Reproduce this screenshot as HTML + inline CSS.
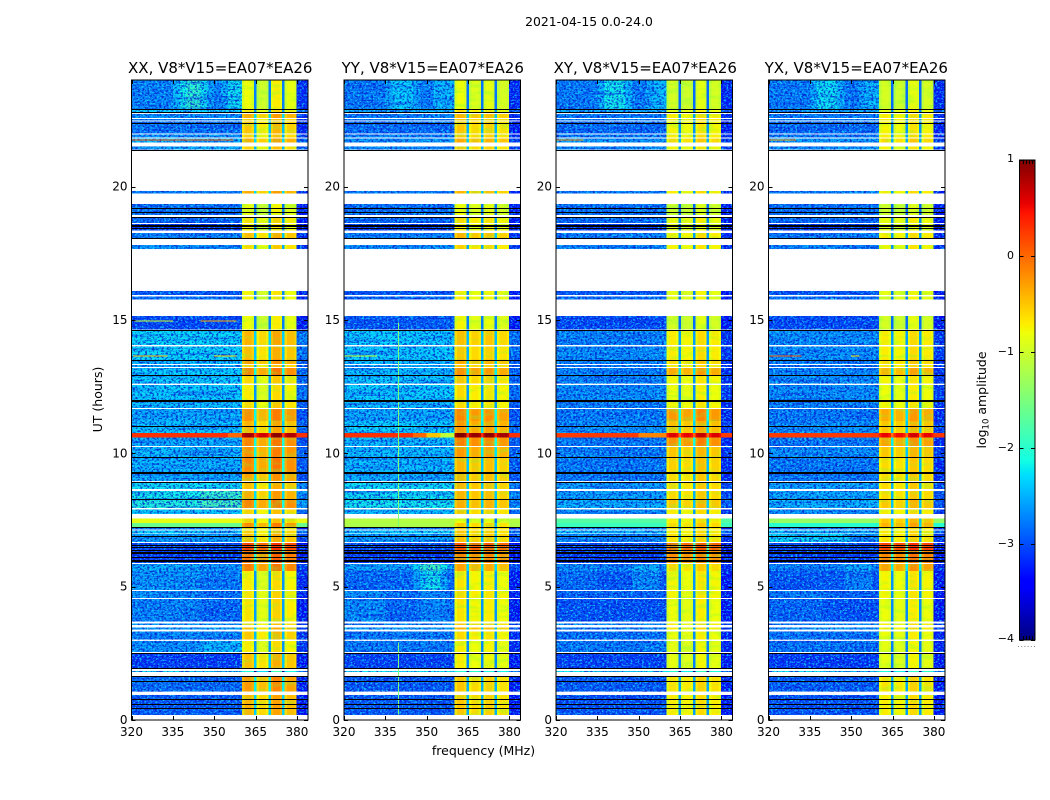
<!DOCTYPE html>
<html lang="en">
<head>
<meta charset="utf-8">
<title>2021-04-15 0.0-24.0</title>
<style>
html,body{margin:0;padding:0;background:#fff;}
svg{display:block;font-family:"DejaVu Sans","Liberation Sans",sans-serif;fill:#000;}
</style>
</head>
<body>
<svg id="fig" xmlns="http://www.w3.org/2000/svg" width="1050" height="800" viewBox="0 0 1050 800">
  <defs>
    <filter id="speckle-dark" x="0" y="0" width="1" height="1" color-interpolation-filters="sRGB">
      <feTurbulence type="fractalNoise" baseFrequency="0.42 0.55" numOctaves="2" seed="4"/>
      <feColorMatrix type="matrix" values="0 0 0 0 0  0 0 0 0 0.08  0 0 0 0 0.78  5 0 0 0 -2.35"/>
    </filter>
    <filter id="speckle-light" x="0" y="0" width="1" height="1" color-interpolation-filters="sRGB">
      <feTurbulence type="fractalNoise" baseFrequency="0.45 0.6" numOctaves="2" seed="11"/>
      <feColorMatrix type="matrix" values="0 0 0 0 0.1  0 0 0 0 0.85  0 0 0 0 1  0 5 0 0 -2.4"/>
    </filter>
    <filter id="row-stripes" x="0" y="0" width="1" height="1" color-interpolation-filters="sRGB">
      <feTurbulence type="fractalNoise" baseFrequency="0.012 0.5" numOctaves="2" seed="7"/>
      <feColorMatrix type="matrix" values="0 0 0 0 0  0 0 0 0 0.15  0 0 0 0 0.9  4 0 0 0 -1.95"/>
    </filter>
    <filter id="window-mottle" x="0" y="0" width="1" height="1" color-interpolation-filters="sRGB">
      <feTurbulence type="fractalNoise" baseFrequency="0.06 0.22" numOctaves="2" seed="21"/>
      <feColorMatrix type="matrix" values="0 0 0 0 0.45  0 0 0 0 1  0 0 0 0 0.25  4 0 0 0 -1.95"/>
    </filter>
  </defs>
  <text x="589" y="26" font-size="12.4" text-anchor="middle">2021-04-15 0.0-24.0</text>
  <text transform="translate(102,399.5) rotate(-90)" font-size="12.5" text-anchor="middle">UT (hours)</text>
  <text x="483.5" y="755" font-size="12.5" text-anchor="middle">frequency (MHz)</text>
  <text transform="translate(986,400) rotate(-90)" font-size="12.5" text-anchor="middle">log<tspan font-size="8.5" dy="2.5">10</tspan><tspan dy="-2.5"> amplitude</tspan></text>
  <g id="panels"></g>
  <g id="cbar"></g>
</svg>
<script>
const panelTitles = ["XX, V8*V15=EA07*EA26","YY, V8*V15=EA07*EA26","XY, V8*V15=EA07*EA26","YX, V8*V15=EA07*EA26"];
const xTicks = [320,335,350,365,380];
const yTicks = [0,5,10,15,20];
const cbarTicks = [1,0,-1,-2,-3,-4];

// Observing bands in UT hours; anything not covered is flagged (white)
const bandStart = [24.00,22.91,22.73,22.53,22.45,21.96,21.80,21.51,19.84,19.35,18.86,18.60,18.26,17.81,16.09,15.88,15.15,14.59,14.01,13.52,13.31,13.20,12.94,12.56,11.96,11.66,11.21,10.76,10.59,10.24,9.83,9.24,8.93,8.59,8.25,7.89,7.56,7.39,7.20,7.11,6.97,6.63,6.34,5.85,5.59,4.84,4.54,3.62,3.47,3.32,2.97,2.50,1.84,1.63,0.94];
const bandEnd   = [22.91,22.76,22.58,22.49,22.00,21.85,21.66,21.39,19.75,18.94,18.64,18.36,18.08,17.66,15.94,15.77,14.64,14.06,13.52,13.35,13.24,12.94,12.61,12.00,11.70,11.21,10.76,10.59,10.28,9.86,9.30,8.96,8.66,8.29,7.95,7.73,7.39,7.24,7.15,7.00,6.67,6.34,5.89,5.59,4.88,4.58,3.69,3.56,3.39,3.01,2.55,1.95,1.80,1.06,0.19];

// log10 amplitude in the 320-360 MHz part, one value per band
const lowXX = [-2.7,-2.3,-2.65,-2.75,-2.8,-2.65,-2.4,-2.5,-2.75,-2.8,-2.85,-3.15,-2.75,-2.65,-2.95,-2.85,-3.05,-2.25,-2.25,-2.4,-2.5,-2.3,-2.3,-2.3,-2.4,-2.5,-2.35,0.3,-2.5,-2.4,-2.45,-2.5,-2.2,-2.15,-2.05,-2.3,-0.85,-1.6,-2.75,-2.3,-2.55,-3.05,-3.15,-2.65,-2.75,-2.8,-2.85,-2.65,-2.55,-2.7,-2.65,-3.15,-2.2,-2.85,-2.95];
const lowYY = [-2.75,-2.4,-2.75,-2.75,-2.85,-2.75,-2.6,-2.65,-2.75,-2.8,-2.85,-3.15,-2.75,-2.65,-2.95,-2.85,-2.95,-2.3,-2.3,-2.4,-2.5,-2.4,-2.35,-2.3,-2.4,-2.5,-2.3,0.3,-2.4,-2.4,-2.4,-2.5,-2.2,-2.2,-2.15,-2.4,-1.15,-1.2,-2.75,-2.3,-2.55,-3.05,-3.15,-2.55,-2.85,-2.85,-2.85,-2.65,-2.55,-2.75,-2.75,-3.1,-2.2,-2.95,-2.95];
const lowXY = [-2.75,-2.5,-2.75,-2.75,-2.85,-2.75,-2.6,-2.65,-2.75,-2.8,-2.85,-3.15,-2.75,-2.7,-2.95,-2.85,-3.05,-2.7,-2.65,-2.75,-2.75,-2.7,-2.7,-2.65,-2.75,-2.75,-2.65,0.25,-2.75,-2.7,-2.75,-2.75,-2.55,-2.55,-2.45,-2.65,-1.75,-1.9,-2.75,-2.4,-2.7,-3.05,-3.15,-2.75,-2.95,-2.9,-3.0,-2.65,-2.65,-2.8,-2.75,-3.1,-2.2,-2.95,-3.0];
const lowYX = [-2.75,-2.5,-2.75,-2.75,-2.85,-2.75,-2.6,-2.65,-2.75,-2.8,-2.85,-3.15,-2.75,-2.7,-2.95,-2.85,-3.05,-2.65,-2.65,-2.75,-2.75,-2.7,-2.65,-2.65,-2.7,-2.75,-2.65,0.25,-2.75,-2.65,-2.75,-2.75,-2.55,-2.5,-2.45,-2.65,-1.35,-2.0,-2.75,-2.4,-2.65,-3.05,-3.15,-2.75,-2.95,-2.9,-3.0,-2.65,-2.65,-2.8,-2.8,-3.15,-2.2,-2.95,-3.0];

// log10 amplitude in the 360-380 MHz windows, one value per band
const highXX = [-0.95,-0.8,-0.5,-0.7,-0.65,-0.7,-0.5,-0.7,-0.5,-1.0,-0.8,-0.9,-0.6,-0.75,-0.9,-0.9,-0.95,-0.55,-0.6,-0.45,-0.7,-0.3,-0.75,-0.85,-0.75,-0.35,-0.55,0.7,-0.3,-0.35,-0.3,-0.45,-0.6,-0.5,-0.3,-0.7,-0.7,-0.35,-0.7,-0.7,-0.6,0.05,-0.2,-0.25,-0.85,-0.8,-0.8,-0.7,-0.6,-0.65,-0.85,-0.6,-2.2,-0.4,-0.55];
const highYY = [-1.0,-0.8,-0.6,-0.7,-0.7,-0.7,-0.55,-0.7,-0.6,-1.0,-0.8,-0.9,-0.6,-0.75,-0.9,-0.9,-0.95,-0.65,-0.7,-0.55,-0.7,-0.4,-0.7,-0.8,-0.8,-0.35,-0.45,0.8,-0.3,-0.45,-0.6,-0.6,-0.6,-0.6,-0.55,-0.7,-1.0,-0.7,-0.7,-0.7,-0.65,-0.05,-0.3,-0.5,-0.85,-0.8,-0.85,-0.7,-0.6,-0.8,-0.9,-0.9,-2.2,-0.7,-0.7];
const highXY = [-1.05,-0.9,-0.8,-0.8,-0.85,-0.8,-0.7,-0.85,-0.8,-1.1,-0.9,-1.0,-0.8,-0.85,-0.95,-0.95,-1.05,-0.8,-0.8,-0.7,-0.8,-0.45,-0.85,-0.9,-0.85,-0.35,-0.55,0.5,-0.3,-0.6,-0.65,-0.7,-0.7,-0.7,-0.6,-0.8,-0.8,-0.7,-0.8,-0.8,-0.75,-0.05,-0.3,-0.7,-0.85,-0.85,-0.9,-0.8,-0.8,-0.9,-0.95,-0.95,-2.2,-0.75,-0.8];
const highYX = [-1.05,-0.9,-0.8,-0.8,-0.85,-0.8,-0.7,-0.85,-0.8,-1.1,-0.9,-1.0,-0.8,-0.85,-0.95,-0.95,-1.05,-0.8,-0.8,-0.7,-0.8,-0.5,-0.85,-0.9,-0.85,-0.45,-0.6,0.45,-0.4,-0.6,-0.7,-0.7,-0.7,-0.7,-0.6,-0.8,-0.6,-0.5,-0.8,-0.8,-0.75,0.1,-0.25,-0.4,-0.85,-0.85,-0.9,-0.8,-0.8,-0.9,-0.95,-0.95,-2.2,-0.75,-0.8];

// Level offset of each 5 MHz window (360, 365, 370, 375 MHz) per panel
const windowXX = [0.15,-0.05,0.25,0.1];
const windowYY = [0.2,0.1,0.15,0.05];
const windowXY = [0.1,0.05,0.2,0.1];
const windowYX = [0.1,0.05,0.2,0.1];

// Broad emission patches: panel, hour from, hour to, MHz from, MHz to, level change
const patches = [
  [0,24,22.91,335,337.5,0.3],[0,24,22.91,337.5,340,0.55],[0,24,22.91,340,345,0.75],[0,24,22.91,345,347.5,0.5],[0,24,22.91,347.5,350,0.2],[0,24,22.91,352.5,355,0.25],[0,24,22.91,355,360,0.5],
  [0,5.85,3.69,320,345,0.15],[0,5.85,3.69,345,360,0.0],[0,2.97,2.55,345,360,0.25],[0,8.59,7.95,345,360,0.25],
  [1,24,22.91,335,337.5,0.25],[1,24,22.91,337.5,345,0.45],[1,24,22.91,345,347.5,0.2],[1,24,22.91,352.5,360,0.3],
  [1,5.85,4.88,345,347.5,0.3],[1,5.85,4.88,347.5,350,0.6],[1,5.85,4.88,350,355,0.7],[1,5.85,4.88,355,357.5,0.4],
  [1,4.88,3.69,320,335,0.2],[1,4.88,3.69,347.5,357.5,0.15],
  [1,10.76,10.59,345,350,-0.3],[1,10.76,10.59,350,355,-0.8],[1,10.76,10.59,355,360,-1.4],
  [0,10.76,10.59,355,360,-0.3],
  [2,24,22.91,335,337.5,0.3],[2,24,22.91,337.5,345,0.6],[2,24,22.91,345,347.5,0.35],[2,24,22.91,352.5,355,0.2],[2,24,22.91,355,360,0.35],
  [2,5.85,4.88,347.5,357.5,0.3],[2,5.85,4.88,320,335,0.12],[2,10.76,10.59,350,360,-0.4],
  [3,24,22.91,335,337.5,0.25],[3,24,22.91,337.5,345,0.55],[3,24,22.91,345,347.5,0.3],[3,24,22.91,352.5,355,0.2],[3,24,22.91,355,360,0.35],
  [3,5.85,4.88,347.5,357.5,0.22],[3,4.88,3.69,320,340,0.12],[3,6.97,6.67,320,350,0.4]
];

// Narrow interference: panel, MHz from, MHz to, hour from, hour to, level
const spurs = [
  [0,320,357,21.77,21.73,0.1],[0,320.5,333,13.67,13.63,-0.4],[0,350,358,13.67,13.63,-0.6],[0,321,335,14.98,14.94,-1.0],[0,345,358,14.98,14.94,-0.4],
  [1,320,332,13.67,13.63,-1.0],[1,339.6,340,14.9,7.2,-1.5],[1,339.6,340,2.9,0.2,-1.5],
  [2,320,330,21.77,21.73,-0.3],[3,320,330,21.77,21.73,-0.3],
  [3,320,332,13.67,13.63,0.1],[3,350,353,13.67,13.63,-0.7]
];

// Thin fully-dark integrations, hours
const flagHours = [22.91,22.79,22.38,21.39,19.2,19.05,18.87,18.56,18.51,18.45,18.06,14.64,13.51,12.93,12.0,11.96,11.04,9.86,9.29,9.25,8.94,8.28,7.22,6.9,6.56,6.49,6.39,6.31,6.25,6.11,6.0,5.96,2.53,2.51,1.94,1.65,1.45,0.79,0.61,0.44];

// Column edges, MHz
const lowEdges = [320,322.5,325,327.5,330,332.5,335,337.5,340,342.5,345,347.5,350,352.5,355,357.5,360];
const windowEdges = [360,360.9,363.6,364.4,365.4,366.2,368.8,369.6,370.5,371.3,373.8,374.6,375.5,376.3,379.1,379.9,384];
// Which window each column belongs to (-1 gap between windows, -2 outer edge) and its edge roll-off
const columnWindow = [0,0,0,-1,1,1,1,-1,2,2,2,-1,3,3,3,-2];
const columnRolloff = [-0.15,0,-0.1,0,-0.15,0,-0.1,0,-0.15,0,-0.1,0,-0.15,0,-0.1,0];

const lowSeries = [lowXX,lowYY,lowXY,lowYX];
const highSeries = [highXX,highYY,highXY,highYX];
const windowSeries = [windowXX,windowYY,windowXY,windowYX];
const panelKeys = ["xx","yy","xy","yx"];
const titleNudge = [1,1,1.5,0];

const SVGNS = "http://www.w3.org/2000/svg";
const panelLefts = [131.5,344,556,768.5];
const panelW = 176.5, plotTop = 80, plotH = 640;
const xAt = (left,f) => left + (f-320)*panelW/64;
const yAt = h => plotTop + (24-h)*plotH/24;

function jetChannel(t,pts){
  for(let i=1;i<pts.length;i++){
    if(t<=pts[i][0]){
      const a=pts[i-1],b=pts[i];
      return a[1]+(b[1]-a[1])*(t-a[0])/(b[0]-a[0]);
    }
  }
  return pts[pts.length-1][1];
}
function jet(v){
  const t=Math.max(0,Math.min(1,(v+4)/5));
  const r=jetChannel(t,[[0,0],[0.35,0],[0.66,1],[0.89,1],[1,0.5]]);
  const g=jetChannel(t,[[0,0],[0.125,0],[0.375,1],[0.64,1],[0.91,0],[1,0]]);
  const b=jetChannel(t,[[0,0.5],[0.11,1],[0.34,1],[0.65,0],[1,0]]);
  return "rgb("+Math.round(r*255)+","+Math.round(g*255)+","+Math.round(b*255)+")";
}
function patchDelta(p,hs,he,f0,f1){
  let d=0;
  for(const q of patches){
    if(q[0]!==p) continue;
    if(hs>q[2]+0.001 && he<q[1]-0.001 && f0<q[4]-0.01 && f1>q[3]+0.01) d+=q[5];
  }
  return d;
}
function rectEl(x,y,w,h,fill){
  const r=document.createElementNS(SVGNS,"rect");
  r.setAttribute("x",x.toFixed(2));
  r.setAttribute("y",y.toFixed(2));
  r.setAttribute("width",w.toFixed(2));
  r.setAttribute("height",h.toFixed(2));
  r.setAttribute("fill",fill);
  return r;
}
function textEl(x,y,str,anchor,size){
  const t=document.createElementNS(SVGNS,"text");
  t.setAttribute("x",x);
  t.setAttribute("y",y);
  t.setAttribute("text-anchor",anchor);
  t.setAttribute("font-size",size);
  t.textContent=str;
  return t;
}
function tickEl(x,y,w,h){
  return rectEl(x,y,w,h,"#000");
}

const panelsRoot=document.getElementById("panels");
panelTitles.forEach(function(title,p){
  const left=panelLefts[p];
  const g=document.createElementNS(SVGNS,"g");
  
  
  panelsRoot.appendChild(g);

  const cells=document.createElementNS(SVGNS,"g");
  cells.setAttribute("shape-rendering","crispEdges");
  
  
  g.appendChild(cells);

  const clip=document.createElementNS(SVGNS,"clipPath");
  clip.setAttribute("id","noise-clip-"+p);
  const clipHigh=document.createElementNS(SVGNS,"clipPath");
  clipHigh.setAttribute("id","window-clip-"+p);

  bandStart.forEach(function(hs,b){
    const he=bandEnd[b];
    const y=yAt(hs), h=yAt(he)-y;
    const low=lowSeries[p][b], high=highSeries[p][b];
    const smooth=low>-2.05;
    for(let c=0;c<lowEdges.length-1;c++){
      const f0=lowEdges[c], f1=lowEdges[c+1];
      const cell=rectEl(xAt(left,f0),y,xAt(left,f1)-xAt(left,f0),h,jet(low+patchDelta(p,hs,he,f0,f1)));
      
      
      cells.appendChild(cell);
    }
    for(let c=0;c<windowEdges.length-1;c++){
      const f0=windowEdges[c], f1=windowEdges[c+1];
      const w=columnWindow[c];
      let v;
      if(w===-2) v=smooth?low:Math.max(low-0.5,-3.4);
      else if(w===-1) v=high>0.2?high-0.5:high-1.8;
      else v=high+windowSeries[p][w]+columnRolloff[c];
      const cell=rectEl(xAt(left,f0),y,xAt(left,f1)-xAt(left,f0),h,jet(v));
      
      
      cells.appendChild(cell);
    }
    if(!smooth){
      clip.appendChild(rectEl(xAt(left,320),y,xAt(left,360)-xAt(left,320),h,"#000"));
      clip.appendChild(rectEl(xAt(left,380),y,xAt(left,384)-xAt(left,380),h,"#000"));
    }
    if(high<0){
      for(let c=0;c<windowEdges.length-2;c++){
        if(columnWindow[c]<0) continue;
        clipHigh.appendChild(rectEl(xAt(left,windowEdges[c]),y,xAt(left,windowEdges[c+1])-xAt(left,windowEdges[c]),h,"#000"));
      }
    }
  });
  g.appendChild(clip);
  g.appendChild(clipHigh);

  const noise=document.createElementNS(SVGNS,"g");
  noise.setAttribute("clip-path","url(#noise-clip-"+p+")");
  
  
  const ns=rectEl(left,plotTop,panelW,plotH,"#000");
  ns.setAttribute("filter","url(#row-stripes)");
  ns.setAttribute("opacity","0.45");
  const nl=rectEl(left,plotTop,panelW,plotH,"#000");
  nl.setAttribute("filter","url(#speckle-light)");
  nl.setAttribute("opacity","0.8");
  const nd=rectEl(left,plotTop,panelW,plotH,"#000");
  nd.setAttribute("filter","url(#speckle-dark)");
  nd.setAttribute("opacity","0.75");
  noise.appendChild(ns);
  noise.appendChild(nl);
  noise.appendChild(nd);
  g.appendChild(noise);

  const mottle=document.createElementNS(SVGNS,"g");
  mottle.setAttribute("clip-path","url(#window-clip-"+p+")");
  
  
  const mr=rectEl(left,plotTop,panelW,plotH,"#000");
  mr.setAttribute("filter","url(#window-mottle)");
  mr.setAttribute("opacity","0.3");
  mottle.appendChild(mr);
  g.appendChild(mottle);

  const spurG=document.createElementNS(SVGNS,"g");
  spurG.setAttribute("shape-rendering","crispEdges");
  
  
  spurs.forEach(function(s){
    if(s[0]!==p) return;
    const sp=rectEl(xAt(left,s[1]),yAt(s[3]),Math.max(1,xAt(left,s[2])-xAt(left,s[1])),Math.max(1,yAt(s[4])-yAt(s[3])),jet(s[5]));
    
    
    spurG.appendChild(sp);
  });
  g.appendChild(spurG);

  const flagG=document.createElementNS(SVGNS,"g");
  flagG.setAttribute("shape-rendering","crispEdges");
  
  
  flagHours.forEach(function(hr){
    const line=rectEl(left,Math.round(yAt(hr)),panelW,1,"#000");
    
    
    flagG.appendChild(line);
  });
  g.appendChild(flagG);

  const frame=document.createElementNS(SVGNS,"rect");
  frame.setAttribute("x",left);
  frame.setAttribute("y",plotTop);
  frame.setAttribute("width",panelW);
  frame.setAttribute("height",plotH);
  frame.setAttribute("fill","none");
  frame.setAttribute("stroke","#000");
  frame.setAttribute("stroke-width","1");
  
  
  g.appendChild(frame);

  const t=textEl(left+panelW/2-0.5+titleNudge[p],73,title,"middle",15);
  
  
  g.appendChild(t);

  xTicks.forEach(function(v){
    const x=Math.round(xAt(left,v));
    const tb=tickEl(x,716,1,4);
    
    
    g.appendChild(tb);
    const tt=tickEl(x,80,1,4);
    
    
    g.appendChild(tt);
    const lab=textEl(xAt(left,v),736,String(v),"middle",12);
    
    
    g.appendChild(lab);
  });
  yTicks.forEach(function(v){
    const y=Math.round(yAt(v));
    const tl=tickEl(left,y,4,1);
    
    
    g.appendChild(tl);
    const tr=tickEl(left+panelW-4,y,4,1);
    
    
    g.appendChild(tr);
    const lab=textEl(left-4,yAt(v)+4,String(v),"end",12);
    
    
    g.appendChild(lab);
  });
});

// Colorbar
const cbRoot=document.getElementById("cbar");
const cbL=1019.5, cbW=15.5, cbT=160, cbH=480, cbMin=-4, cbMax=1, cbSteps=240;
const cbY=v=>cbT+(cbMax-v)/(cbMax-cbMin)*cbH;
const cbCells=document.createElementNS(SVGNS,"g");
cbCells.setAttribute("shape-rendering","crispEdges");


for(let i=0;i<cbSteps;i++){
  const v=cbMax-(i+0.5)*(cbMax-cbMin)/cbSteps;
  const s=rectEl(cbL,cbT+i*cbH/cbSteps,cbW,cbH/cbSteps+0.5,jet(v));
  
  
  cbCells.appendChild(s);
}
cbRoot.appendChild(cbCells);
const cbFrame=rectEl(cbL,cbT,cbW,cbH,"none");
cbFrame.setAttribute("stroke","#000");


cbRoot.appendChild(cbFrame);
cbarTicks.forEach(function(v){
  const y=Math.round(cbY(v));
  const a=tickEl(cbL,y,4,1);
  
  
  cbRoot.appendChild(a);
  const b=tickEl(cbL+cbW-4,y,4,1);
  
  
  cbRoot.appendChild(b);
  const lab=textEl(1014,cbY(v)+(v===1?-1:v===-4?-1:0)+3,v<0?"\u2212"+Math.abs(v):String(v),"end",11);
  
  
  cbRoot.appendChild(lab);
});
[0.2,0.4,0.6,0.8].forEach(function(fr){
  const x=Math.round(cbL+cbW*fr);
  const up=tickEl(x,cbT,1,4);
  
  
  cbRoot.appendChild(up);
  const dn=tickEl(x,cbT+cbH-4,1,4);
  
  
  cbRoot.appendChild(dn);
});
[0,1,2,3,4,5].forEach(function(i){
  const dot=rectEl(1018+i*3.2,646,1,1,"#888");
  
  
  cbRoot.appendChild(dot);
});
</script>
</body>
</html>
